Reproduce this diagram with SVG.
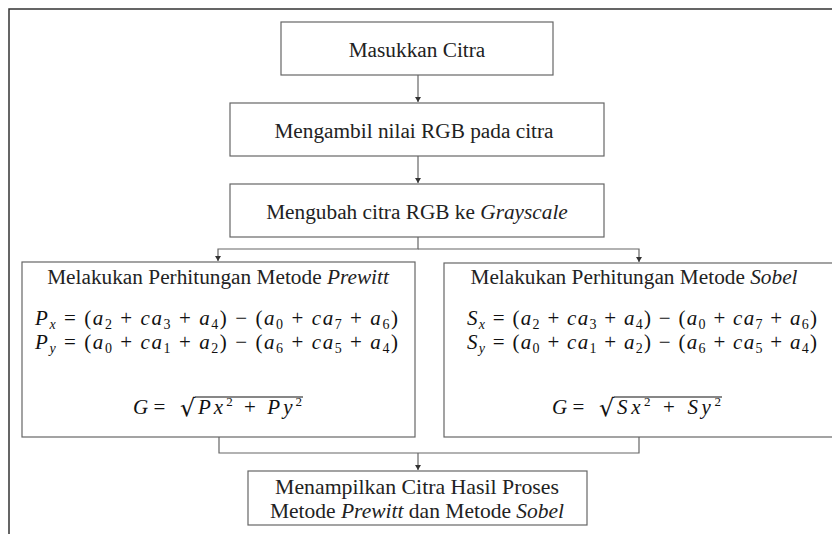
<svg xmlns="http://www.w3.org/2000/svg" width="832" height="534" viewBox="0 0 832 534">
<style>
.box{fill:#fff;stroke:#666;stroke-width:1.2}
.frame{fill:none;stroke:#333;stroke-width:1.5}
.con{fill:none;stroke:#666;stroke-width:1.2}
text{font-family:'Liberation Serif','Times New Roman','DejaVu Serif',serif}
.t{font-size:21.3px;fill:#222;text-anchor:middle}
.m{font-size:21px;fill:#111}
.i{font-style:italic}
.s{font-size:14px}
.su{font-size:13px}
.r{font-family:'DejaVu Serif',serif;font-size:24px;fill:#111}
</style>
<defs>
<marker id="ad" markerUnits="userSpaceOnUse" markerWidth="6" markerHeight="6" refX="3" refY="6" orient="0" viewBox="0 0 6 6">
<path d="M0,1 L6,1 L3,6 Z" fill="#333"/>
</marker>
</defs>
<path class="frame" d="M9,534 V9 H832"/>
<g id="connectors">
<path class="con" d="M418,75 V102" marker-end="url(#ad)"/>
<path class="con" d="M418,156 V183" marker-end="url(#ad)"/>
<path class="con" d="M418,237 V249 H218 V261" marker-end="url(#ad)"/>
<path class="con" d="M418,249 H639 V262" marker-end="url(#ad)"/>
<path class="con" d="M219,437 V453 H639 V437"/>
<path class="con" d="M418,453 V470" marker-end="url(#ad)"/>
</g>
<g id="n1">
<rect class="box" x="281" y="22" width="272" height="53"/>
<text class="t" x="417" y="57">Masukkan Citra</text>
</g>
<g id="n2">
<rect class="box" x="230" y="103" width="374" height="53"/>
<text class="t" x="414" y="138">Mengambil nilai RGB pada citra</text>
</g>
<g id="n3">
<rect class="box" x="230" y="184" width="374" height="53"/>
<text class="t" x="417" y="219">Mengubah citra RGB ke <tspan class="i">Grayscale</tspan></text>
</g>
<g id="n4">
<rect class="box" x="22" y="262" width="393" height="175"/>
<text class="t" x="218" y="284">Melakukan Perhitungan Metode <tspan class="i">Prewitt</tspan></text>
<text class="m" x="35" y="325" textLength="363" lengthAdjust="spacing"><tspan class="i">P</tspan><tspan class="s i" dy="4">x</tspan><tspan dy="-4"> = (</tspan><tspan class="i">a</tspan><tspan class="s" dy="4">2</tspan><tspan dy="-4"> + </tspan><tspan class="i">ca</tspan><tspan class="s" dy="4">3</tspan><tspan dy="-4"> + </tspan><tspan class="i">a</tspan><tspan class="s" dy="4">4</tspan><tspan dy="-4">) − (</tspan><tspan class="i">a</tspan><tspan class="s" dy="4">0</tspan><tspan dy="-4"> + </tspan><tspan class="i">ca</tspan><tspan class="s" dy="4">7</tspan><tspan dy="-4"> + </tspan><tspan class="i">a</tspan><tspan class="s" dy="4">6</tspan><tspan dy="-4">)</tspan></text>
<text class="m" x="35" y="349" textLength="363" lengthAdjust="spacing"><tspan class="i">P</tspan><tspan class="s i" dy="4">y</tspan><tspan dy="-4"> = (</tspan><tspan class="i">a</tspan><tspan class="s" dy="4">0</tspan><tspan dy="-4"> + </tspan><tspan class="i">ca</tspan><tspan class="s" dy="4">1</tspan><tspan dy="-4"> + </tspan><tspan class="i">a</tspan><tspan class="s" dy="4">2</tspan><tspan dy="-4">) − (</tspan><tspan class="i">a</tspan><tspan class="s" dy="4">6</tspan><tspan dy="-4"> + </tspan><tspan class="i">ca</tspan><tspan class="s" dy="4">5</tspan><tspan dy="-4"> + </tspan><tspan class="i">a</tspan><tspan class="s" dy="4">4</tspan><tspan dy="-4">)</tspan></text>
<text class="m" x="133" y="414"><tspan class="i">G</tspan> = </text>
<text class="r" x="180" y="416">√</text>
<line x1="195" y1="397" x2="303" y2="397" stroke="#111" stroke-width="1.2"/>
<text class="m" x="198" y="414" textLength="104" lengthAdjust="spacing"><tspan class="i">Px</tspan><tspan class="su" dy="-8">2</tspan><tspan dy="8"> + </tspan><tspan class="i">Py</tspan><tspan class="su" dy="-8">2</tspan></text>
</g>
<g id="n5">
<rect class="box" x="444" y="263" width="400" height="174"/>
<text class="t" x="634" y="284">Melakukan Perhitungan Metode <tspan class="i">Sobel</tspan></text>
<text class="m" x="467" y="325" textLength="350" lengthAdjust="spacing"><tspan class="i">S</tspan><tspan class="s i" dy="4">x</tspan><tspan dy="-4"> = (</tspan><tspan class="i">a</tspan><tspan class="s" dy="4">2</tspan><tspan dy="-4"> + </tspan><tspan class="i">ca</tspan><tspan class="s" dy="4">3</tspan><tspan dy="-4"> + </tspan><tspan class="i">a</tspan><tspan class="s" dy="4">4</tspan><tspan dy="-4">) − (</tspan><tspan class="i">a</tspan><tspan class="s" dy="4">0</tspan><tspan dy="-4"> + </tspan><tspan class="i">ca</tspan><tspan class="s" dy="4">7</tspan><tspan dy="-4"> + </tspan><tspan class="i">a</tspan><tspan class="s" dy="4">6</tspan><tspan dy="-4">)</tspan></text>
<text class="m" x="467" y="349" textLength="350" lengthAdjust="spacing"><tspan class="i">S</tspan><tspan class="s i" dy="4">y</tspan><tspan dy="-4"> = (</tspan><tspan class="i">a</tspan><tspan class="s" dy="4">0</tspan><tspan dy="-4"> + </tspan><tspan class="i">ca</tspan><tspan class="s" dy="4">1</tspan><tspan dy="-4"> + </tspan><tspan class="i">a</tspan><tspan class="s" dy="4">2</tspan><tspan dy="-4">) − (</tspan><tspan class="i">a</tspan><tspan class="s" dy="4">6</tspan><tspan dy="-4"> + </tspan><tspan class="i">ca</tspan><tspan class="s" dy="4">5</tspan><tspan dy="-4"> + </tspan><tspan class="i">a</tspan><tspan class="s" dy="4">4</tspan><tspan dy="-4">)</tspan></text>
<text class="m" x="552" y="414"><tspan class="i">G</tspan> = </text>
<text class="r" x="599" y="416">√</text>
<line x1="614" y1="397" x2="722" y2="397" stroke="#111" stroke-width="1.2"/>
<text class="m" x="617" y="414" textLength="104" lengthAdjust="spacing"><tspan class="i">Sx</tspan><tspan class="su" dy="-8">2</tspan><tspan dy="8"> + </tspan><tspan class="i">Sy</tspan><tspan class="su" dy="-8">2</tspan></text>
</g>
<g id="n6">
<rect class="box" x="248" y="471" width="339" height="54"/>
<text class="t" x="417" y="494" style="font-size:21.8px">Menampilkan Citra Hasil Proses</text>
<text class="t" x="417" y="518" style="font-size:21.5px">Metode <tspan class="i">Prewitt</tspan> dan Metode <tspan class="i">Sobel</tspan></text>
</g>
</svg>
